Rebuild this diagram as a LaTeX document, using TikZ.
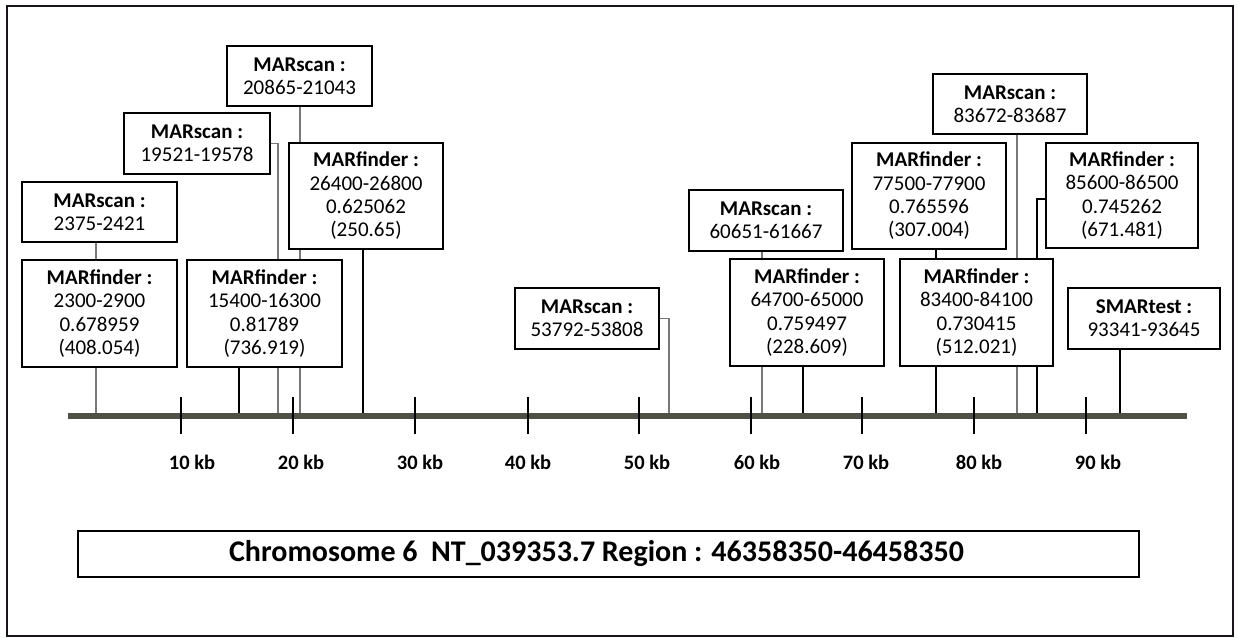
\documentclass[tikz,border=0pt]{standalone}
\usepackage{fontspec}
\setmainfont{Carlito}
\definecolor{axiscol}{RGB}{78,82,70}
\definecolor{thingray}{RGB}{120,120,120}
\definecolor{framecol}{RGB}{25,20,25}
\pgfdeclarelayer{background}
\pgfsetlayers{background,main}
\begin{document}
\begin{tikzpicture}[x=1pt,y=-1pt,
  boxtext/.style={align=center,inner sep=0pt,fill=white,font=\fontsize{21}{23.3}\selectfont},
  finder/.style={boxtext,draw=black,line width=2.6pt,minimum width=154pt,minimum height=106pt},
  scanbox/.style={boxtext,draw=black,line width=1.5pt,minimum width=154pt,minimum height=60pt},
  thinline/.style={draw=thingray,line width=1.1pt},
  thickline/.style={draw=black,line width=2pt},
  tickmark/.style={draw=black,line width=2.6pt},
  axislabel/.style={font=\fontsize{20.5}{24}\selectfont\bfseries,inner sep=0pt}
]
\useasboundingbox (0,0) rectangle (1238,639);
% outer frame
\draw[framecol,line width=2.6pt] (7,6) rectangle (1233,636);

% axis coordinates for connector ends
\coordinate (p2375) at (96,416);
\coordinate (p15400) at (239,416);
\coordinate (p19521) at (278,416);
\coordinate (p20865) at (300,416);
\coordinate (p26400) at (363,416);
\coordinate (p53792) at (669,416);
\coordinate (p60651) at (762,416);
\coordinate (p64700) at (803,416);
\coordinate (p77500) at (936,416);
\coordinate (p83672) at (1017,416);
\coordinate (p85600) at (1037,416);
\coordinate (p93341) at (1120,416);

% boxes
\node[scanbox,minimum width=145pt] (s20865) at (299.5,76) {\textbf{MARscan :}\\20865-21043};
\node[scanbox,minimum width=146pt,minimum height=61pt] (s19521) at (197,143.5) {\textbf{MARscan :}\\19521-19578};
\node[scanbox,minimum width=155pt] (s2375) at (99.5,212) {\textbf{MARscan :}\\2375-2421};
\node[finder] (f26400) at (366,196) {\textbf{MARfinder :}\\26400-26800\\0.625062\\(250.65)};
\node[finder,minimum width=155pt,minimum height=107pt] (f2300) at (99.5,313.5) {\textbf{MARfinder :}\\2300-2900\\0.678959\\(408.054)};
\node[finder,minimum width=155pt,minimum height=107pt] (f15400) at (264.5,313.5) {\textbf{MARfinder :}\\15400-16300\\0.81789\\(736.919)};
\node[scanbox,minimum width=144pt,minimum height=61pt] (s53792) at (587,318.5) {\textbf{MARscan :}\\53792-53808};
\node[scanbox,minimum height=61pt] (s60651) at (766,220.5) {\textbf{MARscan :}\\60651-61667};
\node[finder,minimum height=107pt] (f64700) at (807,312.5) {\textbf{MARfinder :}\\64700-65000\\0.759497\\(228.609)};
\node[finder] (f77500) at (929,196) {\textbf{MARfinder :}\\77500-77900\\0.765596\\(307.004)};
\node[scanbox] (s83672) at (1010,104) {\textbf{MARscan :}\\83672-83687};
\node[finder,minimum width=152pt,minimum height=105pt] (f85600) at (1122,195.5) {\textbf{MARfinder :}\\85600-86500\\0.745262\\(671.481)};
\node[finder,minimum width=153pt,minimum height=107pt] (f83400) at (976.5,312.5) {\textbf{MARfinder :}\\83400-84100\\0.730415\\(512.021)};
\node[scanbox,minimum width=152pt,minimum height=61pt] (smar) at (1144,318.5) {\textbf{SMARtest :}\\93341-93645};

% connectors behind the boxes
\begin{pgfonlayer}{background}
\draw[thinline] (s2375.south -| p2375) -- (p2375);
\draw[thickline] (f15400.south -| p15400) -- (p15400);
\draw[thinline] (s19521.east) -| (p19521);
\draw[thinline] (s20865.south -| p20865) -- (p20865);
\draw[thickline] (f26400.south -| p26400) -- (p26400);
\draw[thinline] (s53792.east) -| (p53792);
\draw[thinline] (s60651.south -| p60651) -- (p60651);
\draw[thickline] (f64700.south -| p64700) -- (p64700);
\draw[thickline] (f77500.south -| p77500) -- (p77500);
\draw[thinline] (s83672.south -| p83672) -- (p83672);
\draw[thickline] ([yshift=-3.5pt]f85600.west) -| (p85600);
\draw[thickline] (smar.south -| p93341) -- (p93341);
\end{pgfonlayer}

% axis
\draw[axiscol,line width=6pt] (68,416) -- (1187,416);
\foreach \x in {181,293,415,528,639,751,862,974,1086}
  \draw[tickmark] (\x,397) -- (\x,434);
\node[axislabel] (l10) at (192,462) {10 kb};
\node[axislabel] (l20) at (301,462) {20 kb};
\node[axislabel] (l30) at (420,462) {30 kb};
\node[axislabel] (l40) at (528,462) {40 kb};
\node[axislabel] (l50) at (647,462) {50 kb};
\node[axislabel] (l60) at (757,462) {60 kb};
\node[axislabel] (l70) at (866,462) {70 kb};
\node[axislabel] (l80) at (979,462) {80 kb};
\node[axislabel] (l90) at (1098,462) {90 kb};

% region box
\node[draw=black,line width=2pt,minimum width=1061pt,minimum height=46pt,inner sep=0pt] (region) at (608.5,554) {};
\node[font=\fontsize{30}{33}\selectfont\bfseries,inner sep=0pt] (regiontext) at ([xshift=-12pt]region.center) {Chromosome 6\ \ NT\_039353.7 Region : 46358350-46458350};
\end{tikzpicture}
\end{document}
